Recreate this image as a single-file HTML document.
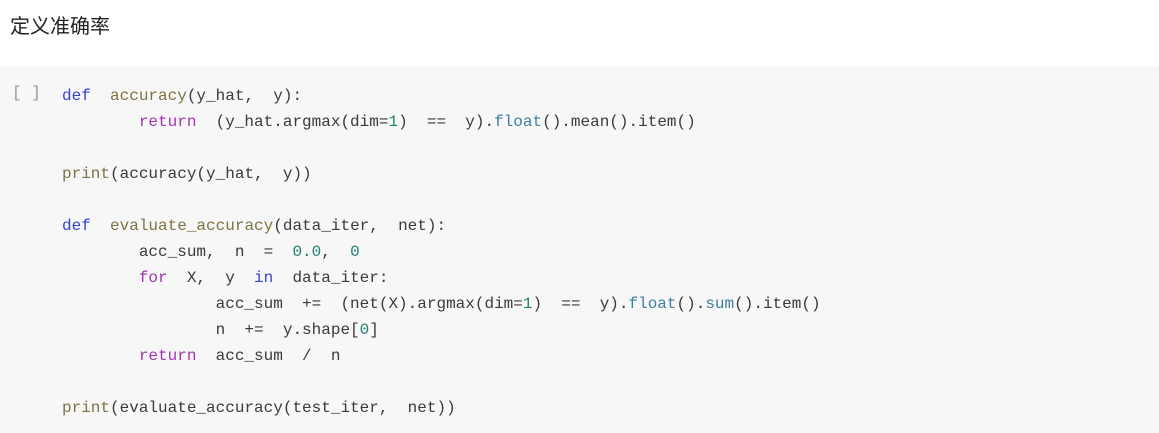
<!DOCTYPE html>
<html><head><meta charset="utf-8"><style>
body{margin:0;width:1159px;height:433px;background:#fff;overflow:hidden;position:relative;font-family:"Liberation Sans","Noto Sans CJK SC",sans-serif}
.t{position:absolute;left:10px;top:10px;font-size:20px;color:#222}
.box{position:absolute;left:0;top:67px;width:1159px;height:366px;background:#f7f7f7}
.br{position:absolute;left:12px;top:84px;font:16px "Liberation Mono",monospace;color:#999;white-space:pre}
pre{position:absolute;left:62px;top:83px;margin:0;font:16px/26px "Liberation Mono","Noto Sans CJK SC",monospace;color:#3a3a3a}
.k{color:#3344cc}.f{color:#7d7442}.r{color:#a333b0}.n{color:#208070}.m{color:#3d7fa0}
</style></head><body>
<div class="t">定义准确率</div>
<div class="box"></div>
<div class="br">[ ]</div>
<pre><span class="k">def</span>  <span class="f">accuracy</span>(y_hat,  y):
        <span class="r">return</span>  (y_hat.argmax(dim=<span class="n">1</span>)  ==  y).<span class="m">float</span>().mean().item()

<span class="f">print</span>(accuracy(y_hat,  y))

<span class="k">def</span>  <span class="f">evaluate_accuracy</span>(data_iter,  net):
        acc_sum,  n  =  <span class="n">0.0</span>,  <span class="n">0</span>
        <span class="r">for</span>  X,  y  <span class="k">in</span>  data_iter:
                acc_sum  +=  (net(X).argmax(dim=<span class="n">1</span>)  ==  y).<span class="m">float</span>().<span class="m">sum</span>().item()
                n  +=  y.shape[<span class="n">0</span>]
        <span class="r">return</span>  acc_sum  /  n

<span class="f">print</span>(evaluate_accuracy(test_iter,  net))</pre>
</body></html>
